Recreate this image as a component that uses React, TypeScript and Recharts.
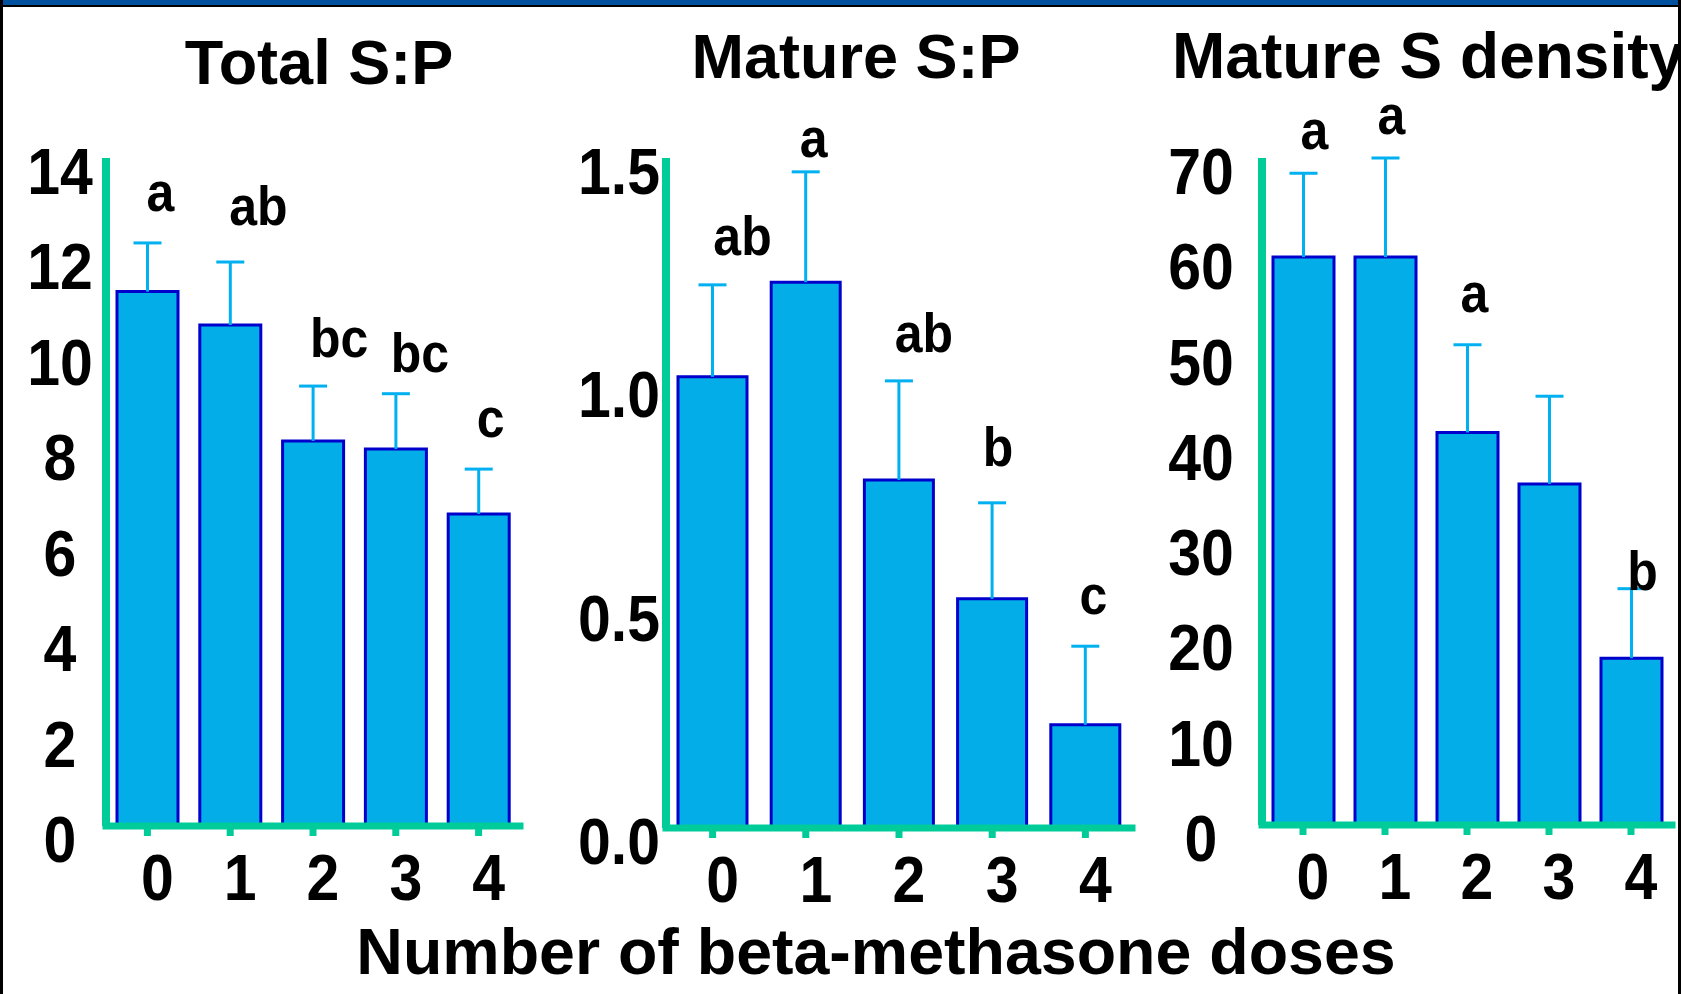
import React from "react";
import {Bar, BarChart, XAxis, YAxis} from "recharts";

// doses of beta-methasone on the x axis of every panel
const doses = ["0", "1", "2", "3", "4"];

// Total S:P
const totalSP = [11.2, 10.5, 8.07, 7.9, 6.54];
const totalSPErr = [1.02, 1.32, 1.15, 1.16, 0.94];
const totalSPLetters = ["a", "ab", "bc", "bc", "c"];
const totalSPTicks = [0, 2, 4, 6, 8, 10, 12, 14];

// Mature S:P
const matureSP = [1.01, 1.222, 0.779, 0.513, 0.231];
const matureSPErr = [0.206, 0.247, 0.222, 0.215, 0.176];
const matureSPLetters = ["ab", "a", "ab", "b", "c"];
const matureSPTicks = [0, 0.5, 1, 1.5];

// Mature S density
const matureDensity = [59.6, 59.6, 41.2, 35.8, 17.5];
const matureDensityErr = [8.8, 10.4, 9.2, 9.2, 7.3];
const matureDensityLetters = ["a", "a", "a", "", "b"];
const matureDensityTicks = [0, 10, 20, 30, 40, 50, 60, 70];

const W = 1681;
const H = 994;
const FONT = '"Liberation Sans", Arial, Helvetica, sans-serif';
const GREEN = "#00CC99";
const BAR_FILL = "#03ADE8";
const BAR_EDGE = "#0000CC";
const WHISKER = "#00B0F0";
const Y_AXIS_W = 60;
const X_AXIS_H = 60;

// where the significance letters sit, relative to the top of each whisker
const totalSPLetterPos = [[13, -32], [28, -37], [26, -29], [24, -22], [12, -32]];
const matureSPLetterPos = [[30, -30], [8, -15], [25, -29], [6, -37], [8, -32]];
const matureDensityLetterPos = [[11, -24], [6, -24], [7, -33], [0, 0], [11, 1]];

const panels = [
	{
		name: "total", values: totalSP, errs: totalSPErr, letters: totalSPLetters, letterPos: totalSPLetterPos,
		domain: [0, 14], ticks: totalSPTicks, fmt: (v: number) => String(v),
		left: 106, right: 520, top: 158, bottom: 826, barSize: 61, labelDx: -46
	},
	{
		name: "matureSP", values: matureSP, errs: matureSPErr, letters: matureSPLetters, letterPos: matureSPLetterPos,
		domain: [0, 1.5], ticks: matureSPTicks, fmt: (v: number) => v.toFixed(1),
		left: 666, right: 1132, top: 158, bottom: 828, barSize: 69, labelDx: -47
	},
	{
		name: "density", values: matureDensity, errs: matureDensityErr, letters: matureDensityLetters, letterPos: matureDensityLetterPos,
		domain: [0, 70], ticks: matureDensityTicks, fmt: (v: number) => String(v),
		left: 1262, right: 1672, top: 158, bottom: 825, barSize: 61, labelDx: -61
	}
];

function StretchText({x, y, size, anchor = "middle", sy = 1.1, children}: any) {
	return <text transform={`translate(${x},${y}) scale(1,${sy})`} textAnchor={anchor} fontFamily={FONT}
							 fontWeight="bold" fontSize={size} fill="#000">{children}</text>
}

const YTick = (props: any) => {
	const {x, y, payload, labelDx, fmt} = props;
	return <StretchText x={x + labelDx} y={y + 36} size={59}>{fmt(payload.value)}</StretchText>
};

const XTick = (props: any) => {
	const {x, y, payload} = props;
	return <StretchText x={x + 10} y={y + 64} size={59}>{payload.value}</StretchText>
};

const Whisker = (props: any) => {
	const {x, y, width, height, payload, letterPos} = props;
	const cx = x + width / 2;
	const [dx, dy] = letterPos[payload.i];
	return <g>
		<line x1={cx} y1={y + height} x2={cx} y2={y} stroke={WHISKER} strokeWidth={3}/>
		<line x1={cx - 14} y1={y} x2={cx + 14} y2={y} stroke={WHISKER} strokeWidth={3}/>
		{payload.letter ? <StretchText x={cx + dx} y={y + dy} size={50}>{payload.letter}</StretchText> : null}
	</g>
};

function Panel({p}: any) {
	const data = doses.map((dose, i) => ({
		dose, i, mean: p.values[i], err: p.errs[i], letter: p.letters[i]
	}));
	const margin = {
		top: p.top,
		right: W - p.right,
		left: p.left - Y_AXIS_W,
		bottom: H - p.bottom - X_AXIS_H
	};
	return <div style={{position: "absolute", left: 0, top: 0}}>
		<BarChart width={W} height={H} data={data} margin={margin} barCategoryGap={0}>
			<XAxis dataKey="dose" height={X_AXIS_H} axisLine={{stroke: GREEN, strokeWidth: 7, strokeLinecap: "square"}}
						 tickLine={{stroke: GREEN, strokeWidth: 7}} tickSize={10} tickMargin={0} tick={<XTick/>}
						 interval={0}/>
			<YAxis width={Y_AXIS_W} domain={p.domain} ticks={p.ticks} type="number"
						 axisLine={{stroke: GREEN, strokeWidth: 8}} tickLine={false} tickSize={0} tickMargin={0}
						 tick={<YTick labelDx={p.labelDx} fmt={p.fmt}/>} interval={0}/>
			<Bar dataKey="mean" stackId="s" fill={BAR_FILL} stroke={BAR_EDGE} strokeWidth={3}
					 barSize={p.barSize} isAnimationActive={false}/>
			<Bar dataKey="err" stackId="s" barSize={p.barSize} isAnimationActive={false}
					 shape={(sp: any) => <Whisker {...sp} letterPos={p.letterPos}/>}/>
		</BarChart>
	</div>
}

export default function App() {
	return <div style={{position: "absolute", left: 0, top: 0, width: W, height: H, background: "#fff", overflow: "hidden"}}>
		{panels.map(p => <Panel key={p.name} p={p}/>)}
		<svg width={W} height={H} style={{position: "absolute", left: 0, top: 0, pointerEvents: "none"}}>
			<text x={319} y={84} textAnchor="middle" fontFamily={FONT} fontWeight="bold" fontSize={63}>Total S:P</text>
			<text x={856} y={78} textAnchor="middle" fontFamily={FONT} fontWeight="bold" fontSize={63}>Mature S:P</text>
			<text x={1172} y={78} textAnchor="start" fontFamily={FONT} fontWeight="bold" fontSize={64}>Mature S density</text>
			<text x={876} y={974} textAnchor="middle" fontFamily={FONT} fontWeight="bold" fontSize={64.5}>
				Number of beta-methasone doses
			</text>
			<rect x={0} y={0} width={W} height={5} fill="#0050A0"/>
			<rect x={0} y={5} width={W} height={2} fill="#000"/>
			<rect x={0} y={0} width={3} height={H} fill="#000"/>
			<rect x={W - 3} y={0} width={3} height={H} fill="#000"/>
		</svg>
	</div>
}
